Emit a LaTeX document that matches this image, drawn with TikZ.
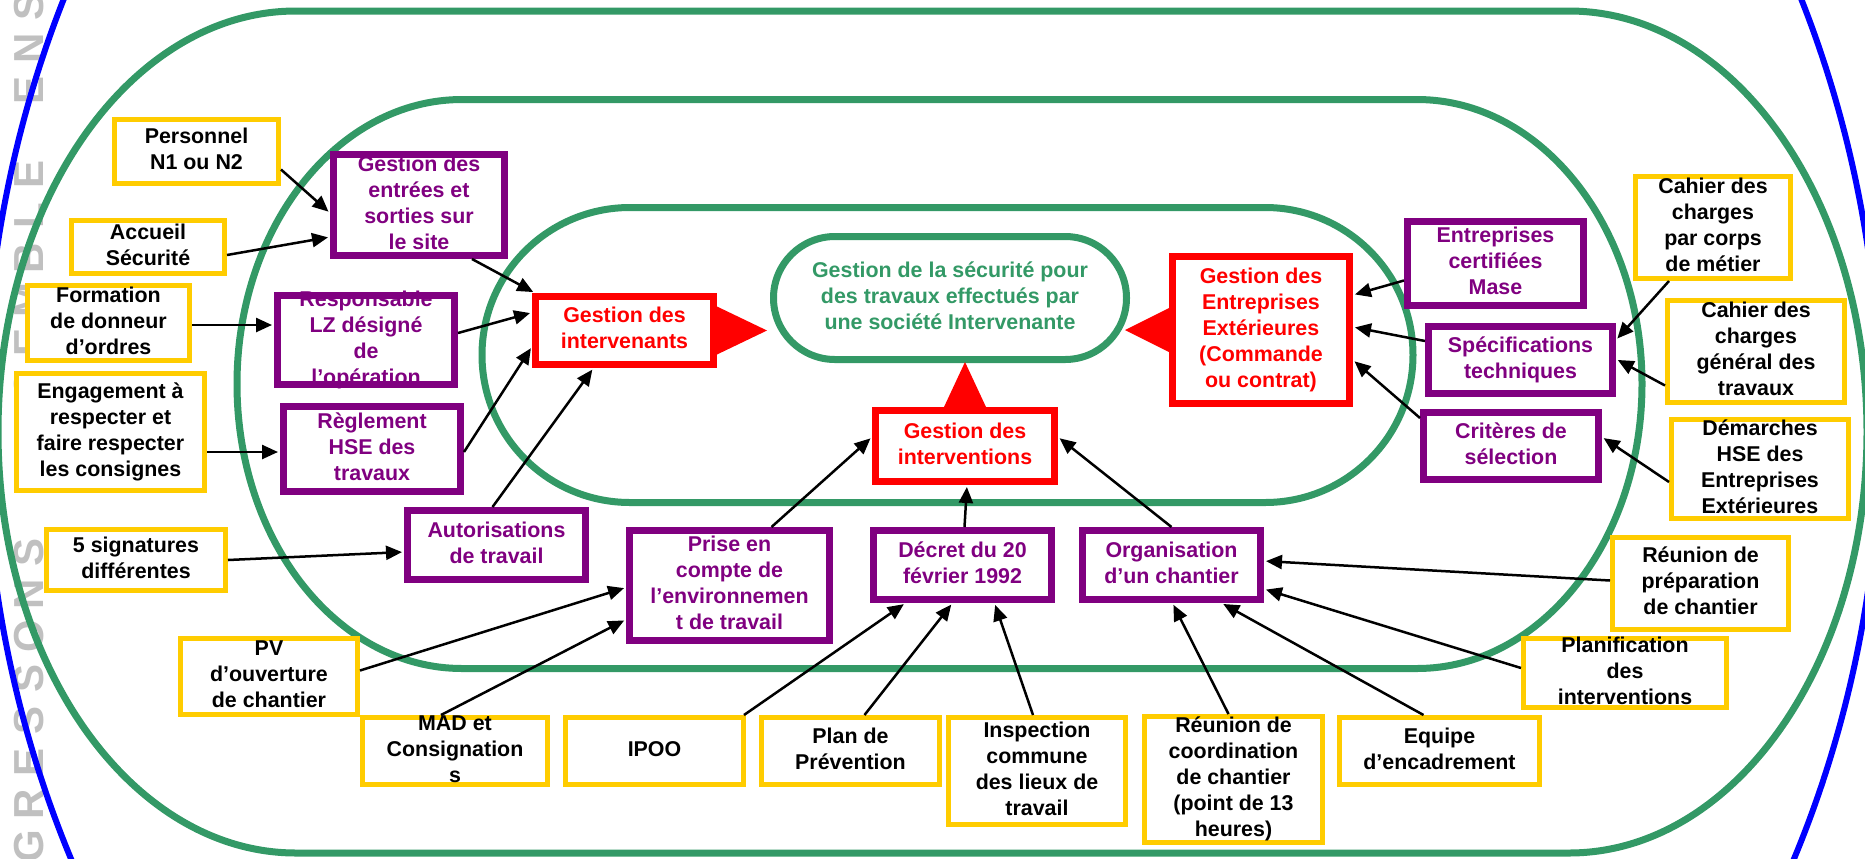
\documentclass[tikz,border=0pt]{standalone}
\usepackage{fontspec}
\setmainfont{Liberation Sans}
\usetikzlibrary{calc,arrows.meta}
\definecolor{ringgreen}{HTML}{339966}
\definecolor{boxyellow}{HTML}{FFCC00}
\definecolor{boxpurple}{HTML}{800080}
\definecolor{markgrey}{HTML}{C0C0C0}
\newcommand{\ringwidth}{3.5pt}
\newcommand{\boxfont}{\fontsize{10.7}{13}\selectfont\bfseries}
\newcommand{\boxlines}[1]{\smash{\raisebox{-0.25em}{\begin{tabular}{@{}c@{}}#1\end{tabular}}}}
\tikzset{
  boxsize/.style 2 args={minimum width=#1*0.5pt, minimum height=#2*0.5pt},
  basebox/.style={rectangle, fill=white, inner sep=0pt, font=\boxfont},
  ybox/.style={basebox, draw=boxyellow, line width=2.5pt, text=black},
  pbox/.style={basebox, draw=boxpurple, line width=3.5pt, text=boxpurple},
  rbox/.style={basebox, draw=red, line width=3.5pt, text=red},
  ring/.style={draw=ringgreen, line width=\ringwidth},
  link/.style={-{Triangle[length=8pt, width=7pt]}, line width=1.25pt, shorten >=1pt}
}

\begin{document}
\begin{tikzpicture}[x=0.5pt, y=-0.5pt]

\useasboundingbox (0,0) rectangle (1865,858);
\clip (0,0) rectangle (1865,858);

% watermark
\foreach \ch/\yy [count=\i] in {G/846,R/804,E/762,S/720,S/678,O/636,N/594,S/552,E/468,N/426,S/384,E/342,M/300,B/258,L/216,E/174,E/90,N/48,S/6}
  \node[rotate=90, anchor=base, inner sep=0pt, text=markgrey, font=\fontsize{21}{24}\selectfont\bfseries] (wm\i) at (43,\yy) {\ch};

% rings
\draw[blue, line width=3pt] (932.5,420) ellipse [x radius=948, y radius=1050];
\draw[ring] (296,11) -- (1569,11) arc[start angle=-90, end angle=90, x radius=298, y radius=421]
  -- (296,853) arc[start angle=90, end angle=270, x radius=298, y radius=421] -- cycle;
\draw[ring] (462,99.5) -- (1417,99.5) arc[start angle=-90, end angle=90, x radius=225, y radius=284.5]
  -- (462,668.5) arc[start angle=90, end angle=270, x radius=225, y radius=284.5] -- cycle;
\draw[ring] (630,207.5) -- (1265,207.5) arc[start angle=-90, end angle=90, x radius=148, y radius=147.5]
  -- (630,502.5) arc[start angle=90, end angle=270, x radius=148, y radius=147.5] -- cycle;

\node[basebox, draw=ringgreen, line width=3.5pt, rounded corners=30.7pt, text=ringgreen, boxsize={353}{123}] (core) at (950,298) {\boxlines{Gestion de la sécurité pour\\des travaux effectués par\\une société Intervenante}};

% outer boxes
\node[ybox, boxsize={164}{64}] (pers) at (196.5,151.5) {\boxlines{Personnel\\N1 ou N2}};
\node[ybox, boxsize={153}{53}] (accu) at (148,247) {\boxlines{Accueil\\Sécurité}};
\node[ybox, boxsize={162}{75}] (form) at (108.5,323) {\boxlines{Formation\\de donneur\\d’ordres}};
\node[ybox, boxsize={188}{117}] (enga) at (110.5,432) {\boxlines{Engagement à\\respecter et\\faire respecter\\les consignes}};
\node[ybox, boxsize={179}{61}] (sign) at (136,560) {\boxlines{5 signatures\\différentes}};
\node[ybox, boxsize={177}{76}] (pvou) at (269,676.5) {\boxlines{PV\\d’ouverture\\de chantier}};
\node[ybox, boxsize={185}{67}] (madc) at (455,751) {\boxlines{MAD et\\Consignation\\s}};
\node[ybox, boxsize={178}{67}] (ipoo) at (654.5,751) {\boxlines{IPOO}};
\node[ybox, boxsize={178}{67}] (plan) at (850.5,751) {\boxlines{Plan de\\Prévention}};
\node[ybox, boxsize={177}{107}] (insp) at (1037,771) {\boxlines{Inspection\\commune\\des lieux de\\travail}};
\node[ybox, boxsize={178}{126}] (reco) at (1233.5,779.5) {\boxlines{Réunion de\\coordination\\de chantier\\(point de 13\\heures)}};
\node[ybox, boxsize={200}{67}] (equi) at (1439.5,751) {\boxlines{Equipe\\d’encadrement}};
\node[ybox, boxsize={203}{69}] (plni) at (1625,673) {\boxlines{Planification\\des\\interventions}};
\node[ybox, boxsize={176}{92}] (repr) at (1700.5,583.5) {\boxlines{Réunion de\\préparation\\de chantier}};
\node[ybox, boxsize={177}{99}] (dema) at (1760,469) {\boxlines{Démarches\\HSE des\\Entreprises\\Extérieures}};
\node[ybox, boxsize={177}{102}] (cgen) at (1756,351.5) {\boxlines{Cahier des\\charges\\général des\\travaux}};
\node[ybox, boxsize={155}{102}] (ccor) at (1713,227.5) {\boxlines{Cahier des\\charges\\par corps\\de métier}};

% middle boxes
\node[pbox, boxsize={171}{101}] (gent) at (419,205) {\boxlines{Gestion des\\entrées et\\sorties sur\\le site}};
\node[pbox, boxsize={177}{89}] (resp) at (366,340) {\boxlines{Responsable\\LZ désigné\\de\\l’opération}};
\node[pbox, boxsize={177}{85}] (regl) at (372,449) {\boxlines{Règlement\\HSE des\\travaux}};
\node[pbox, boxsize={178}{69}] (auto) at (496.5,545) {\boxlines{Autorisations\\de travail}};
\node[pbox, boxsize={200}{110}] (pris) at (729.5,585.5) {\boxlines{Prise en\\compte de\\l’environnemen\\t de travail}};
\node[pbox, boxsize={178}{69}] (decr) at (962.5,565) {\boxlines{Décret du 20\\février 1992}};
\node[pbox, boxsize={178}{69}] (orga) at (1171.5,565) {\boxlines{Organisation\\d’un chantier}};
\node[pbox, boxsize={176}{84}] (mase) at (1495.5,263.5) {\boxlines{Entreprises\\certifiées\\Mase}};
\node[pbox, boxsize={184}{67}] (spec) at (1520.5,360) {\boxlines{Spécifications\\techniques}};
\node[pbox, boxsize={175}{67}] (crit) at (1511,446) {\boxlines{Critères de\\sélection}};

% inner boxes
\node[rbox, boxsize={178}{68}] (gint) at (624.5,330.5) {\boxlines{Gestion des\\intervenants}};
\node[rbox, boxsize={179}{71}] (gitv) at (965,446) {\boxlines{Gestion des\\interventions}};
\node[rbox, boxsize={177}{147}] (gext) at (1261,330) {\boxlines{Gestion des\\Entreprises\\Extérieures\\(Commande\\ou contrat)}};

% pointers
\fill[red] ($(gint.east)+(0,-24)$) -- ($(gint.east)+(50,0)$) -- ($(gint.east)+(0,24)$) -- cycle;
\fill[red] ($(gext.west)+(0,-22)$) -- ($(gext.west)+(-44,0)$) -- ($(gext.west)+(0,22)$) -- cycle;
\fill[red] ($(gitv.north)+(-21,0)$) -- ($(gitv.north)+(0,-45)$) -- ($(gitv.north)+(21,0)$) -- cycle;

% arrows
\draw[link] ($(pers.east)+(0,18)$) -- ($(gent.west)+(0,8)$);
\draw[link] ($(accu.east)+(0,8)$) -- ($(gent.west)+(0,32)$);
\draw[link] ($(gent.south)+(53,0)$) -- ($(gint.north west)+(3,0)$);
\draw[link] ($(form.east)+(0,2)$) -- ($(resp.west)+(0,-15)$);
\draw[link] ($(resp.east)+(0,-7)$) -- ($(gint.west)+(0,-18)$);
\draw[link] ($(enga.east)+(0,20)$) -- ($(regl.west)+(0,3)$);
\draw[link] ($(regl.east)+(0,3)$) -- ($(gint.west)+(0,16)$);
\draw[link] ($(auto.north)+(-4,0)$) -- ($(gint.south)+(-31,0)$);
\draw[link] (sign.east) -- ($(auto.west)+(0,7)$);
\draw[link] ($(pvou.east)+(0,-6)$) -- ($(pris.west)+(0,2)$);
\draw[link] ($(madc.north)+(-14,0)$) -- ($(pris.west)+(0,34)$);
\draw[link] ($(ipoo.north east)+(-2,0)$) -- ($(decr.south)+(-57,0)$);
\draw[link] ($(plan.north)+(14,0)$) -- ($(decr.south)+(-10,0)$);
\draw[link] ($(insp.north)+(-4,0)$) -- ($(decr.south)+(32,0)$);
\draw[link] ($(pris.north)+(42,0)$) -- ($(gitv.west)+(0,-9)$);
\draw[link] ($(decr.north)+(2,0)$) -- ($(gitv.south)+(2,0)$);
\draw[link] (orga.north) -- ($(gitv.east)+(0,-9)$);
\draw[link] ($(reco.north)+(-5,0)$) -- ($(orga.south)+(1,0)$);
\draw[link] ($(equi.north)+(-16,0)$) -- ($(orga.south)+(50,0)$);
\draw[link] ($(plni.west)+(0,-5)$) -- ($(orga.east)+(0,24)$);
\draw[link] ($(repr.west)+(0,-3)$) -- ($(orga.east)+(0,-4)$);
\draw[link] ($(dema.west)+(0,13)$) -- ($(crit.east)+(0,-9)$);
\draw[link] ($(cgen.west)+(0,34)$) -- ($(spec.east)+(0,-1)$);
\draw[link] ($(ccor.south)+(-44,0)$) -- ($(spec.east)+(0,-20)$);
\draw[link] ($(mase.west)+(0,17)$) -- ($(gext.east)+(0,-35)$);
\draw[link] ($(spec.west)+(0,-19)$) -- ($(gext.east)+(0,-3)$);
\draw[link] ($(crit.west)+(0,-28)$) -- ($(gext.east)+(0,30)$);
\end{tikzpicture}
\end{document}
